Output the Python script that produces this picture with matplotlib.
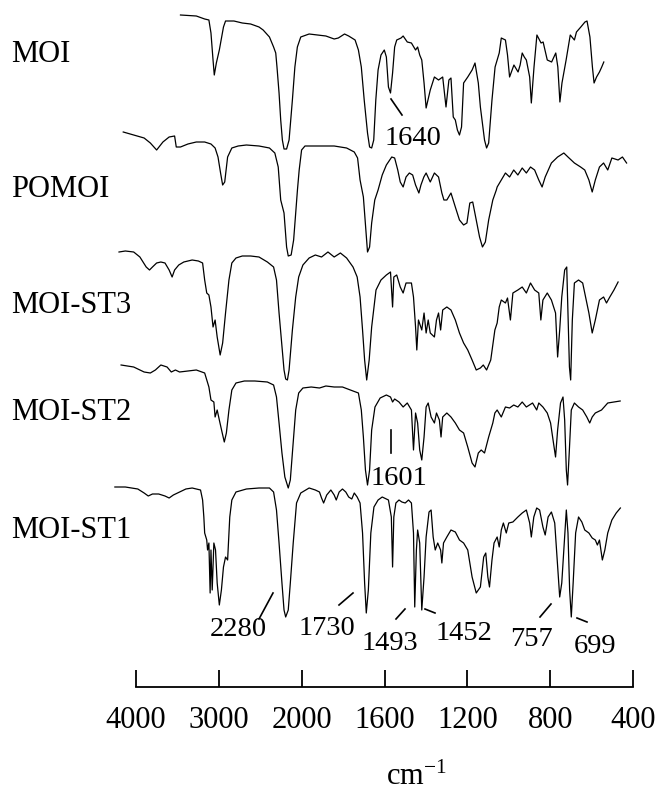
import numpy as np
import matplotlib
matplotlib.use("Agg")
import matplotlib.pyplot as plt
from matplotlib.lines import Line2D

plt.rcParams["font.family"] = ["Liberation Serif", "DejaVu Serif"]
plt.rcParams["mathtext.default"] = "regular"

# ---- spectra: wavenumber (cm-1) and relative transmittance ----
moi_w = [3463, 3272, 3171, 3120, 3095, 3070, 3055, 3030, 2994, 2944, 2919, 2818, 2717, 2616,
         2515, 2465, 2389, 2339, 2313, 2298, 2273, 2253, 2233, 2213, 2182, 2152, 2112, 2082,
         2052, 2011, 1964, 1883, 1843, 1823, 1793, 1773, 1742, 1726, 1712, 1698, 1682, 1672,
         1662, 1652, 1642, 1631, 1617, 1601, 1591, 1581, 1571, 1561, 1551, 1541, 1520, 1510,
         1490, 1470, 1450, 1440, 1430, 1420, 1409, 1399, 1379, 1359, 1339, 1319, 1303, 1289,
         1279, 1268, 1258, 1248, 1238, 1228, 1218, 1198, 1177, 1163, 1147, 1137, 1117, 1107,
         1097, 1081, 1066, 1046, 1036, 1016, 1006, 996, 975, 955, 945, 935, 925, 915, 899, 891,
         878, 864, 844, 834, 814, 793, 773, 763, 753, 743, 723, 703, 683, 673, 652, 632, 622,
         608, 596, 588, 576, 562, 551, 541]
moi_t = [135, 134, 131, 130, 117, 90, 75, 87, 100, 123, 129, 129, 127, 126,
         123, 120, 113, 103, 97, 83, 57, 30, 10, 1, 1, 10, 50, 83,
         103, 113, 116, 114, 111, 112, 116, 114, 110, 100, 83, 50, 17, 3,
         2, 10, 50, 80, 95, 100, 93, 63, 57, 77, 103, 110, 112, 114,
         108, 107, 100, 103, 95, 90, 67, 42, 60, 73, 70, 73, 43, 70,
         72, 33, 30, 20, 15, 23, 67, 73, 80, 87, 67, 43, 10, 2,
         7, 50, 83, 97, 112, 110, 95, 73, 85, 78, 85, 97, 93, 90, 73, 47,
         83, 115, 107, 108, 90, 88, 97, 83, 48, 67, 90, 115, 110, 118, 123, 128, 129,
         113, 83, 67, 73, 78, 83, 88]

pomoi_w = [4154, 4028, 3902, 3827, 3751, 3675, 3600, 3534, 3514, 3463, 3373, 3272, 3171, 3095,
           3045, 3010, 2979, 2954, 2929, 2894, 2843, 2767, 2667, 2515, 2389, 2324, 2283, 2253,
           2213, 2182, 2162, 2127, 2097, 2072, 2051, 2030, 2001, 1984, 1924, 1843, 1783, 1746,
           1730, 1718, 1702, 1690, 1682, 1672, 1662, 1647, 1631, 1611, 1591, 1565, 1551, 1536,
           1524, 1510, 1496, 1480, 1464, 1450, 1434, 1424, 1410, 1399, 1379, 1359, 1339, 1323,
           1313, 1299, 1279, 1258, 1238, 1218, 1202, 1188, 1174, 1157, 1141, 1127, 1113, 1097,
           1077, 1060, 1056, 1036, 1016, 996, 976, 956, 935, 915, 895, 875, 855, 839, 824, 794,
           764, 734, 714, 683, 653, 633, 613, 597, 582, 562, 542, 522, 502, 472, 451, 431]
pomoi_t = [128, 125, 122, 117, 110, 118, 123, 124, 113, 113, 116, 118, 118, 116,
           112, 103, 87, 75, 78, 103, 112, 114, 115, 114, 112, 107, 93, 60,
           47, 13, 4, 5, 20, 47, 70, 90, 110, 114, 114, 114, 112, 108,
           102, 80, 63, 30, 8, 13, 37, 60, 70, 85, 95, 103, 102, 90,
           78, 73, 83, 87, 85, 75, 67, 75, 83, 87, 78, 87, 83, 67,
           60, 60, 67, 53, 40, 35, 37, 57, 58, 40, 23, 13, 18, 40,
           60, 70, 73, 80, 87, 83, 90, 85, 92, 87, 93, 90, 80, 73, 83, 97,
           103, 107, 103, 97, 93, 90, 80, 68, 80, 93, 97, 90, 102, 100, 103, 97]

st3_w = [4205, 4129, 4028, 3953, 3877, 3837, 3801, 3751, 3700, 3650, 3600, 3564, 3534, 3484,
         3423, 3322, 3247, 3196, 3171, 3146, 3120, 3095, 3070, 3045, 3020, 2984, 2954, 2919,
         2878, 2843, 2793, 2717, 2616, 2515, 2414, 2339, 2304, 2273, 2238, 2213, 2193, 2172,
         2152, 2112, 2072, 2036, 1994, 1964, 1934, 1904, 1873, 1843, 1813, 1783, 1752, 1732,
         1718, 1706, 1696, 1686, 1674, 1662, 1641, 1617, 1591, 1571, 1561, 1555, 1541, 1524,
         1510, 1496, 1470, 1460, 1450, 1444, 1436, 1420, 1409, 1399, 1389, 1379, 1359, 1349,
         1339, 1329, 1319, 1299, 1279, 1258, 1238, 1218, 1198, 1177, 1157, 1137, 1123, 1107,
         1087, 1067, 1056, 1046, 1036, 1016, 1006, 992, 980, 956, 935, 915, 895, 875, 855,
         845, 835, 814, 794, 774, 764, 754, 744, 730, 720, 714, 707, 701, 693, 683, 663, 643,
         633, 613, 597, 582, 562, 542, 528, 512, 492, 472]
st3_t = [130, 131, 130, 125, 115, 112, 115, 119, 120, 119, 112, 105, 112, 117,
         120, 122, 121, 119, 102, 89, 87, 75, 55, 62, 45, 27, 39, 69,
         102, 119, 124, 126, 126, 125, 120, 115, 102, 69, 35, 12, 3, 2,
         12, 52, 85, 105, 117, 124, 127, 125, 130, 125, 129, 124, 115, 105,
         85, 52, 22, 2, 22, 55, 92, 102, 107, 110, 75, 105, 107, 95,
         89, 99, 99, 85, 55, 32, 62, 52, 69, 49, 62, 49, 45, 62,
         69, 52, 72, 75, 72, 62, 49, 39, 32, 22, 12, 14, 17, 12,
         22, 52, 59, 75, 82, 79, 84, 62, 89, 92, 95, 89, 99, 92, 89,
         62, 82, 89, 82, 69, 25, 52, 85, 112, 115, 69, 15, 2, 62, 99, 102, 99,
         89, 69, 49, 62, 82, 85, 79, 85, 92, 100]

st2_w = [4180, 4028, 3902, 3827, 3766, 3700, 3625, 3574, 3524, 3474, 3373, 3272, 3171, 3120,
         3095, 3060, 3045, 3020, 2994, 2959, 2934, 2909, 2878, 2843, 2793, 2692, 2566, 2414,
         2339, 2304, 2273, 2238, 2203, 2162, 2137, 2112, 2072, 2036, 1994, 1954, 1914, 1883,
         1843, 1803, 1752, 1726, 1712, 1702, 1692, 1682, 1672, 1662, 1646, 1621, 1591, 1571,
         1561, 1551, 1530, 1510, 1490, 1470, 1460, 1450, 1440, 1430, 1420, 1409, 1399, 1389,
         1375, 1359, 1349, 1335, 1327, 1319, 1299, 1279, 1258, 1238, 1218, 1198, 1177, 1163,
         1147, 1133, 1117, 1097, 1077, 1067, 1056, 1036, 1016, 996, 976, 956, 935, 915, 885,
         865, 855, 835, 814, 798, 784, 774, 764, 750, 738, 730, 722, 716, 708, 698, 683, 663,
         643, 623, 609, 597, 582, 552, 522, 492, 462]
st2_t = [125, 123, 118, 117, 120, 125, 123, 118, 120, 118, 119, 120, 117, 103,
         90, 88, 73, 80, 70, 57, 48, 57, 80, 100, 107, 109, 109, 108,
         105, 93, 67, 37, 13, 2, 10, 37, 80, 97, 102, 103, 102, 104,
         103, 103, 99, 97, 80, 53, 20, 5, 20, 60, 83, 92, 95, 93,
         88, 91, 88, 83, 87, 80, 40, 77, 67, 40, 30, 53, 83, 87,
         73, 67, 77, 70, 53, 73, 77, 73, 67, 60, 57, 43, 27, 23,
         37, 40, 37, 53, 67, 77, 80, 73, 83, 82, 85, 83, 88, 83, 87,
         80, 87, 83, 77, 67, 47, 33, 60, 87, 93, 70, 20, 5, 37, 80, 87, 83,
         80, 73, 67, 73, 77, 80, 87, 88, 89]

st1_w = [4255, 4129, 3978, 3902, 3852, 3801, 3726, 3650, 3600, 3549, 3474, 3398, 3322, 3221,
         3196, 3181, 3171, 3146, 3136, 3120, 3105, 3095, 3080, 3060, 3040, 3020, 2994, 2969,
         2944, 2919, 2894, 2868, 2843, 2793, 2667, 2515, 2389, 2339, 2304, 2273, 2238, 2213,
         2193, 2162, 2137, 2102, 2062, 2011, 1964, 1934, 1914, 1904, 1894, 1879, 1859, 1843,
         1833, 1819, 1803, 1787, 1773, 1758, 1746, 1732, 1718, 1706, 1696, 1688, 1678, 1666,
         1651, 1631, 1611, 1581, 1567, 1561, 1555, 1545, 1530, 1516, 1500, 1484, 1470, 1460,
         1454, 1446, 1440, 1430, 1420, 1409, 1399, 1385, 1375, 1365, 1355, 1343, 1329, 1323,
         1315, 1299, 1279, 1258, 1238, 1218, 1198, 1177, 1157, 1137, 1121, 1111, 1101, 1093,
         1081, 1071, 1056, 1046, 1036, 1026, 1012, 1000, 980, 956, 935, 915, 899, 891, 879,
         865, 851, 835, 824, 810, 794, 778, 764, 754, 744, 734, 722, 714, 706, 698, 689, 677,
         663, 647, 633, 613, 597, 582, 572, 562, 548, 536, 522, 502, 481, 461]
st1_t = [133, 133, 131, 127, 124, 126, 126, 124, 122, 125, 128, 131, 132, 130,
         120, 103, 87, 80, 70, 77, 27, 70, 30, 77, 70, 37, 15, 30,
         53, 63, 60, 103, 120, 128, 131, 132, 132, 128, 110, 77, 37, 10,
         3, 10, 37, 77, 117, 127, 132, 130, 128, 122, 117, 125, 130, 125,
         120, 128, 131, 128, 123, 121, 127, 123, 117, 87, 37, 7, 30, 87,
         113, 120, 123, 120, 103, 53, 103, 117, 120, 118, 117, 120, 117, 87,
         13, 70, 90, 77, 10, 43, 83, 108, 110, 83, 70, 77, 70, 57,
         77, 83, 90, 88, 80, 77, 70, 43, 27, 33, 63, 67, 43, 33,
         60, 77, 83, 73, 90, 97, 87, 97, 98, 103, 107, 110, 97, 83, 103,
         112, 110, 93, 85, 103, 108, 97, 53, 23, 37, 70, 110, 87, 30, 3, 37, 87,
         103, 98, 90, 87, 82, 80, 75, 80, 60, 70, 87, 100, 107, 112]

names = ["MOI", "POMOI", "MOI-ST3", "MOI-ST2", "MOI-ST1"]
ticks = [4000, 3000, 2000, 1600, 1200, 800, 400]
peaks = ["1640", "1601", "2280", "1730", "1493", "1452", "757", "699"]


def fwd(w):
    w = np.asarray(w, dtype=float)
    return np.where(w >= 2000, 4 + (w - 2000) / 1000.0, (w - 400) / 400.0)


def inv(u):
    u = np.asarray(u, dtype=float)
    return np.where(u >= 4, 2000 + (u - 4) * 1000.0, 400 + 400.0 * u)


W, H = 655, 793
fig = plt.figure(figsize=(W / 100, H / 100), dpi=100)


def fx(px):
    return px / W


def fy(py):
    return 1 - py / H


x_left, x_right, axis_row = 136, 633, 687

# spectra: one axes, y measured in picture rows (downwards negative)
ax = fig.add_axes([fx(x_left), 0, fx(x_right) - fx(x_left), 1])
ax.set_xscale("function", functions=(fwd, inv))
ax.set_xlim(4000, 400)
ax.set_ylim(-H, 0)
ax.axis("off")

series = [(moi_w, moi_t), (pomoi_w, pomoi_t), (st3_w, st3_t), (st2_w, st2_t), (st1_w, st1_t)]
base_rows = [150, 260, 382, 490, 620]
name_rows = [62, 197, 313, 420, 538]
for (w, t), base, name, nrow in zip(series, base_rows, names, name_rows):
    ax.plot(w, np.array(t) - base, color="black", lw=0.9, clip_on=False)
    fig.text(fx(11), fy(nrow), name, fontsize=22, ha="left", va="baseline")

# peak labels and their little pointer strokes
label_pos = [(413, 145), (399, 485), (238, 636), (327, 635), (390, 650), (464, 640), (531, 646), (595, 653)]
strokes = [((391, 402), (99, 115)), ((391, 391), (430, 453)), ((259, 273), (619, 593)),
           ((339, 353), (605, 593)), ((396, 405), (619, 609)), ((425, 435), (609, 613)),
           ((540, 551), (617, 604)), ((577, 587), (618, 622))]
for txt, (px, py), (xs, ys) in zip(peaks, label_pos, strokes):
    fig.text(fx(px), fy(py), txt, fontsize=20.5, ha="center", va="baseline")
    fig.add_artist(Line2D([fx(v) for v in xs], [fy(v) for v in ys], color="black", lw=1.2))

# bottom wavenumber ruler
axr = fig.add_axes([fx(x_left), fy(axis_row), fx(x_right) - fx(x_left), 0.04])
axr.set_xscale("function", functions=(fwd, inv))
axr.set_xlim(4000, 400)
axr.set_xticks(ticks)
axr.set_xticklabels([str(v) for v in ticks])
axr.set_yticks([])
axr.patch.set_visible(False)
for s in ["top", "left", "right"]:
    axr.spines[s].set_visible(False)
axr.spines["bottom"].set_linewidth(1.3)
axr.tick_params(axis="x", direction="in", length=12.5, width=1.3, pad=14, labelsize=22)
axr.xaxis.set_minor_locator(matplotlib.ticker.NullLocator())

fig.text(fx(416), fy(785), "cm$^{-1}$", fontsize=22, ha="center", va="baseline")

fig.savefig("out.png", dpi=100)
